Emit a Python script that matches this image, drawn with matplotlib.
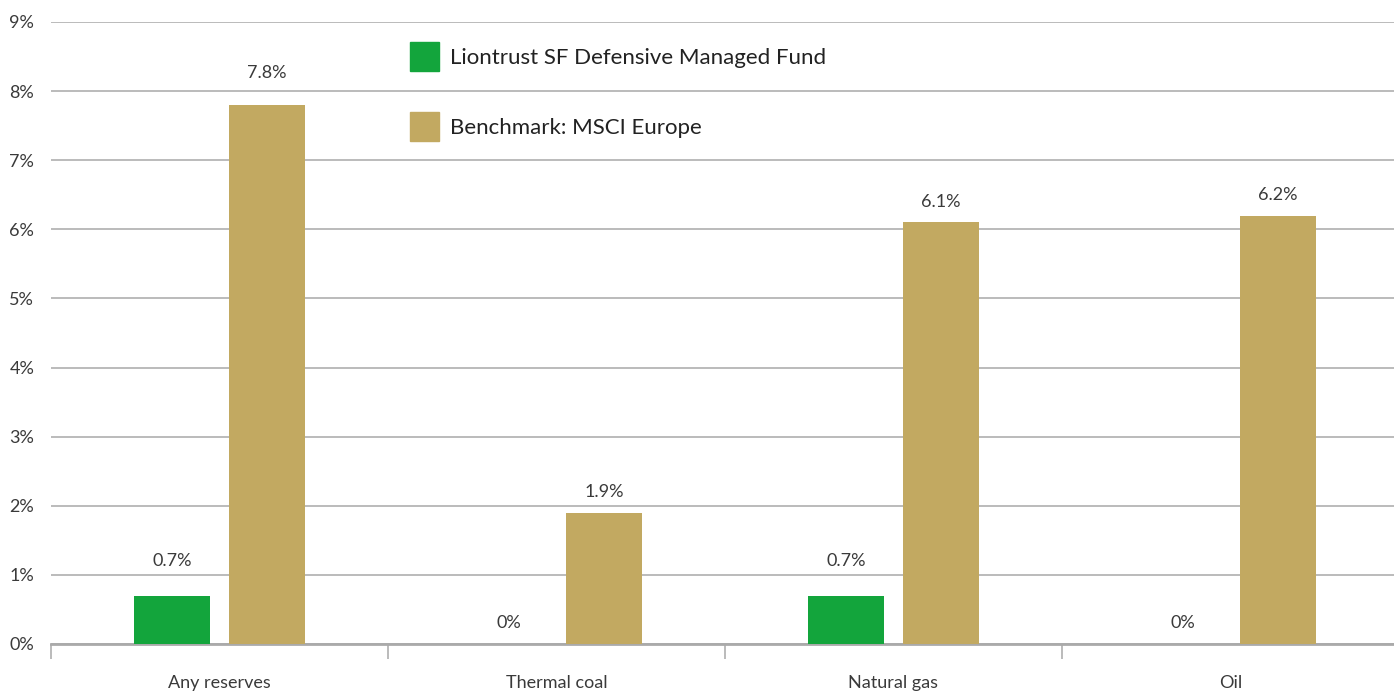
import matplotlib
matplotlib.use("Agg")
import matplotlib.pyplot as plt
import numpy as np
from matplotlib.patches import Rectangle

categories = ["Any reserves", "Thermal coal", "Natural gas", "Oil"]
fund = [0.7, 0.0, 0.7, 0.0]
bench = [7.8, 1.9, 6.1, 6.2]
fund_labels = ["0.7%", "0%", "0.7%", "0%"]
bench_labels = ["7.8%", "1.9%", "6.1%", "6.2%"]
yticks = list(range(0, 10))
series_names = ["Liontrust SF Defensive Managed Fund", "Benchmark: MSCI Europe"]

green = "#13A53C"
gold = "#C2A961"
grid_c = "#B5B5B5"
text_c = "#3A3A3A"

plt.rcParams['font.family'] = ['Lato', 'DejaVu Sans']

fig = plt.figure(figsize=(13.94, 6.93), dpi=100)
W, H = 1394, 693
left, right = 51, 1399
bottom, top = 644, 22
ax = fig.add_axes([left / W, 1 - bottom / H, (right - left) / W, (bottom - top) / H])

x = np.arange(len(categories))
off = 0.141
bw = 0.2255
ax.bar(x - off, fund, bw, color=green, zorder=3)
ax.bar(x + off, bench, bw, color=gold, zorder=3)

for xi, v, lab in zip(x, fund, fund_labels):
    ax.annotate(lab, (xi - off, v), xytext=(0, 19 if v > 0 else 9), textcoords="offset points",
                ha="center", va="bottom", fontsize=13, color=text_c)
for xi, v, lab in zip(x, bench, bench_labels):
    ax.annotate(lab, (xi + off, v), xytext=(0, 17 if v > 7 else 9), textcoords="offset points",
                ha="center", va="bottom", fontsize=13, color=text_c)

ax.set_xlim(-0.5, len(categories) - 0.5)
ax.set_ylim(0, 9)
ax.set_yticks(yticks)
ax.set_yticklabels([f"{t}%" for t in yticks], fontsize=13, color=text_c)
ax.yaxis.grid(True, color=grid_c, linewidth=1.3, zorder=0)
ax.set_axisbelow(True)
ax.tick_params(axis="y", length=0, pad=12)

ax.set_xticks(x)
ax.set_xticklabels(categories, fontsize=13, color=text_c)
ax.tick_params(axis="x", which="major", length=0, pad=22)
ax.set_xticks(np.arange(-0.5, len(categories) - 0.4, 1.0), minor=True)
ax.tick_params(axis="x", which="minor", length=11, width=1.3, color=grid_c)

for s in ["top", "right", "left"]:
    ax.spines[s].set_visible(False)
ax.spines["bottom"].set_color("#AAAAAA")
ax.spines["bottom"].set_linewidth(2)

for i, (name, c) in enumerate(zip(series_names, [green, gold])):
    y0 = 42 + i * 70
    fig.patches.append(Rectangle((410 / W, 1 - (y0 + 29) / H), 29 / W, 29 / H,
                                 transform=fig.transFigure, color=c))
    fig.text(450 / W, 1 - (y0 + 16) / H, name, fontsize=16, color="#222222",
             va="center", ha="left")

fig.savefig("out.png", dpi=100)
